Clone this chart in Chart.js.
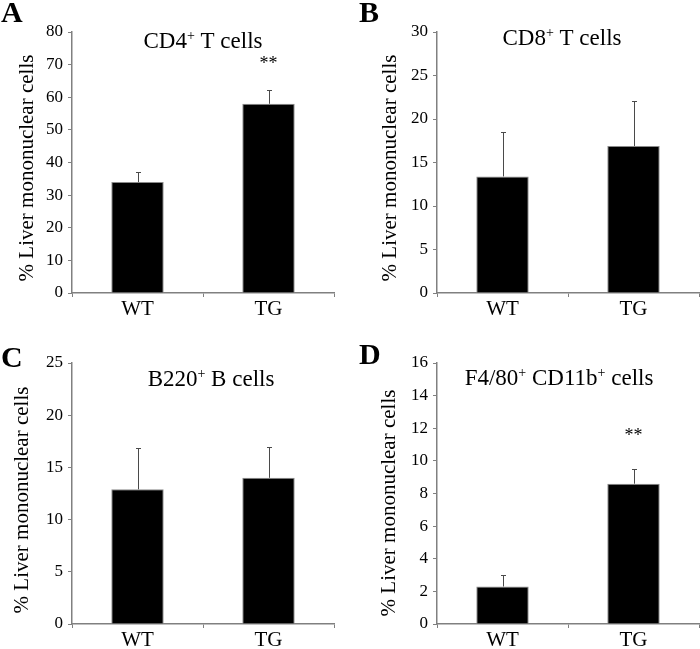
<!DOCTYPE html>
<html>
<head>
<meta charset="utf-8">
<script src="https://cdn.jsdelivr.net/npm/chart.js@4/dist/chart.umd.min.js"></script>
<style>
    body { margin: 0; background: #fff; }
    #fig { position: relative; width: 700px; height: 649px; }
    canvas { position: absolute; }
    .letter { position: absolute; font: bold 30px 'Liberation Serif', serif; line-height: 1; color: #000; }
</style>
</head>
<body>
<div id="fig"></div>
<script>
const groups = ['WT', 'TG'];
const yTitle = '% Liver mononuclear cells';

// A - CD4+ T cells
const cd4Values = [34, 58];
const cd4Errors = [3, 4.1];
const cd4Stars = [null, 71];

// B - CD8+ T cells
const cd8Values = [13.4, 16.9];
const cd8Errors = [5.1, 5.2];
const cd8Stars = [null, null];

// C - B220+ B cells
const b220Values = [12.9, 14.0];
const b220Errors = [4.0, 3.0];
const b220Stars = [null, null];

// D - F4/80+ CD11b+ cells
const f480Values = [2.3, 8.6];
const f480Errors = [0.7, 0.9];
const f480Stars = [null, 11.7];

const yMax = [80, 30, 25, 16];
const yStep = [10, 5, 5, 2];

const SERIF = "'Liberation Serif', 'Times New Roman', serif";

const panels = [
    { letter: 'A', title: [['CD4', 0], ['+', 1], [' T cells', 0]], values: cd4Values, errors: cd4Errors, stars: cd4Stars,
      max: yMax[0], step: yStep[0], left: 0, top: 0, w: 350, h: 320,
      area: { l: 72, t: 32, r: 334, b: 293 }, yt: { x: 33, y: 168 }, titleX: 203, titleY: 48, lx: 1, ly: -3 },
    { letter: 'B', title: [['CD8', 0], ['+', 1], [' T cells', 0]], values: cd8Values, errors: cd8Errors, stars: cd8Stars,
      max: yMax[1], step: yStep[1], left: 350, top: 0, w: 350, h: 320,
      area: { l: 87, t: 32, r: 349, b: 293 }, yt: { x: 46, y: 168 }, titleX: 212, titleY: 45, lx: 359, ly: -3 },
    { letter: 'C', title: [['B220', 0], ['+', 1], [' B cells', 0]], values: b220Values, errors: b220Errors, stars: b220Stars,
      max: yMax[2], step: yStep[2], left: 0, top: 320, w: 350, h: 329,
      area: { l: 72, t: 43, r: 334, b: 304 }, yt: { x: 28, y: 180 }, titleX: 211, titleY: 66, lx: 1, ly: 342 },
    { letter: 'D', title: [['F4/80', 0], ['+', 1], [' CD11b', 0], ['+', 1], [' cells', 0]], values: f480Values, errors: f480Errors, stars: f480Stars,
      max: yMax[3], step: yStep[3], left: 350, top: 320, w: 350, h: 329,
      area: { l: 87, t: 43, r: 349, b: 304 }, yt: { x: 45, y: 183 }, titleX: 209, titleY: 65, lx: 359, ly: 339 }
];

const makeExtras = (p) => ({
    id: 'extras',
    afterDatasetsDraw(chart) {
        const { ctx } = chart;
        const y = chart.scales.y;
        const meta = chart.getDatasetMeta(0);
        ctx.save();

        // error bars (upper only)
        ctx.strokeStyle = '#4a4a4a';
        ctx.lineWidth = 1;
        p.values.forEach((v, i) => {
            const cx = Math.round(meta.data[i].x) + 0.5;
            const y0 = y.getPixelForValue(v);
            const y1 = Math.round(y.getPixelForValue(v + p.errors[i])) + 0.5;
            ctx.beginPath();
            ctx.moveTo(cx, y0);
            ctx.lineTo(cx, y1);
            ctx.moveTo(cx - 2.5, y1);
            ctx.lineTo(cx + 2.5, y1);
            ctx.stroke();
        });

        // significance stars
        ctx.fillStyle = '#000';
        ctx.font = '18px ' + SERIF;
        ctx.textAlign = 'center';
        ctx.textBaseline = 'middle';
        p.stars.forEach((s, i) => {
            if (s === null) return;
            ctx.fillText('**', meta.data[i].x, y.getPixelForValue(s) + 3);
        });

        // y axis title
        ctx.save();
        ctx.translate(p.yt.x, p.yt.y);
        ctx.rotate(-Math.PI / 2);
        ctx.font = '21px ' + SERIF;
        ctx.textBaseline = 'alphabetic';
        ctx.fillText(yTitle, 0, 0);
        ctx.restore();

        // title with superscripts
        const big = '23px ' + SERIF;
        const small = '14px ' + SERIF;
        ctx.textAlign = 'left';
        ctx.textBaseline = 'alphabetic';
        let total = 0;
        p.title.forEach(([t, sup]) => {
            ctx.font = sup ? small : big;
            total += ctx.measureText(t).width;
        });
        let x = p.titleX - total / 2;
        p.title.forEach(([t, sup]) => {
            ctx.font = sup ? small : big;
            ctx.fillText(t, x, sup ? p.titleY - 8 : p.titleY);
            x += ctx.measureText(t).width;
        });
        ctx.restore();
    }
});

const fig = document.getElementById('fig');

panels.forEach((p) => {
    const canvas = document.createElement('canvas');
    canvas.width = p.w;
    canvas.height = p.h;
    canvas.style.left = p.left + 'px';
    canvas.style.top = p.top + 'px';
    fig.appendChild(canvas);

    const letter = document.createElement('div');
    letter.className = 'letter';
    letter.textContent = p.letter;
    letter.style.left = p.lx + 'px';
    letter.style.top = p.ly + 'px';
    fig.appendChild(letter);

    new Chart(canvas.getContext('2d'), {
        type: 'bar',
        data: {
            labels: groups,
            datasets: [{
                data: p.values,
                backgroundColor: '#000',
                borderColor: '#8a8a8a',
                borderWidth: 1,
                barPercentage: 0.4,
                categoryPercentage: 1
            }]
        },
        options: {
            responsive: false,
            animation: false,
            layout: {
                padding: { left: 0, top: p.area.t, right: p.w - p.area.r, bottom: 0 }
            },
            scales: {
                x: {
                    grid: {
                        display: true,
                        drawOnChartArea: false,
                        offset: true,
                        tickLength: 4,
                        tickColor: '#808080'
                    },
                    border: { color: '#808080', width: 1.5 },
                    ticks: { color: '#000', padding: 0, font: { family: SERIF, size: 21 } },
                    afterFit: (scale) => { scale.height = p.h - p.area.b; }
                },
                y: {
                    min: 0,
                    max: p.max,
                    grid: {
                        display: true,
                        drawOnChartArea: false,
                        tickLength: 4,
                        tickColor: '#808080'
                    },
                    border: { color: '#808080', width: 1.5 },
                    ticks: { stepSize: p.step, color: '#000', padding: 5, font: { family: SERIF, size: 17 } },
                    afterFit: (scale) => { scale.width = p.area.l; }
                }
            },
            plugins: {
                legend: { display: false },
                tooltip: { enabled: false }
            }
        },
        plugins: [makeExtras(p)]
    });
});
</script>
</body>
</html>
